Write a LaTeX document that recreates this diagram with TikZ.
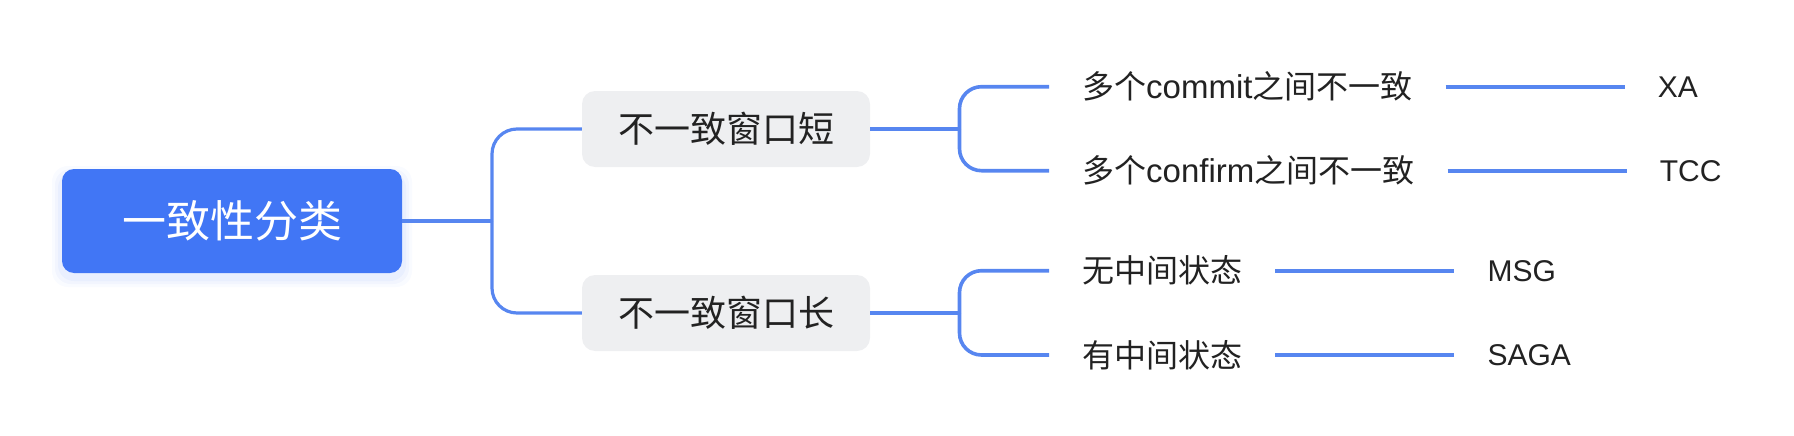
\documentclass[tikz,border=0pt]{standalone}
\usepackage{fontspec}
\setmainfont{Liberation Sans}
\newfontfamily\cjk{Noto Sans CJK SC}
\newcommand{\latw}[1]{{\fontsize{33}{38}\selectfont #1}}
\definecolor{rootblue}{HTML}{4176F5}
\definecolor{lineblue}{HTML}{5786F0}
\definecolor{boxgray}{HTML}{EEEFF1}
\definecolor{ink}{HTML}{222222}
\tikzset{
  rootbox/.style={fill=rootblue, rounded corners=12pt, minimum width=340pt, minimum height=104pt, inner sep=0pt, text=white, font=\cjk\fontsize{44}{50}\selectfont},
  midbox/.style={fill=boxgray, rounded corners=13pt, minimum width=288pt, minimum height=76pt, inner sep=0pt, text=ink, font=\cjk\fontsize{36}{42}\selectfont},
  subtext/.style={anchor=west, inner xsep=33pt, inner ysep=0pt, text=ink, font=\fontsize{32}{38}\selectfont},
  leaftext/.style={inner xsep=33pt, inner ysep=0pt, text=ink, font=\fontsize{30}{36}\selectfont},
  conn/.style={draw=lineblue, line width=3.2pt},
  subconn/.style={draw=lineblue, line width=3.6pt},
}
\begin{document}
\begin{tikzpicture}[x=1pt,y=-1pt]
\useasboundingbox (0,0) rectangle (1794,436);
% soft glow under root
\foreach \g/\o in {10/0.03,7/0.04,4/0.05}{
  \fill[rootblue, opacity=\o, rounded corners=16pt] (62-\g,172-\g+4) rectangle (402+\g,273+\g+4);
}
\node[rootbox] (root) at (232,221) {一致性分类};
\node[midbox] (A) at (726,129) {不一致窗口短};
\node[midbox] (B) at (726,313) {不一致窗口长};
\coordinate (j1) at (492,221);
\coordinate (j2) at (959.5,129);
\coordinate (j3) at (959.5,313);
\node[subtext] (t1) at (1049,86.7) {{\cjk 多个}\latw{commit}{\cjk 之间不一致}};
\node[subtext] (t2) at (1049,170.7) {{\cjk 多个}\latw{confirm}{\cjk 之间不一致}};
\node[subtext] (t3) at (1049,270.7) {{\cjk 无中间状态}};
\node[subtext] (t4) at (1049,355) {{\cjk 有中间状态}};
\node[leaftext, anchor=west] (l1) at ([xshift=179pt]t1.east) {XA};
\node[leaftext, anchor=west] (l2) at ([xshift=179pt]t2.east) {TCC};
\node[leaftext, anchor=west] (l3) at ([xshift=179pt]t3.east) {MSG};
\node[leaftext, anchor=west] (l4) at ([xshift=179pt]t4.east) {SAGA};
% connectors
\draw[conn] (root.east) -- (j1);
\draw[conn, rounded corners=25pt] (j1) |- (A.west);
\draw[conn, rounded corners=25pt] (j1) |- (B.west);
\draw[subconn] (A.east) -- (j2);
\draw[subconn] (B.east) -- (j3);
\draw[subconn, rounded corners=22pt] (j2) |- (t1.west);
\draw[subconn, rounded corners=22pt] (j2) |- (t2.west);
\draw[subconn, rounded corners=22pt] (j3) |- (t3.west);
\draw[subconn, rounded corners=22pt] (j3) |- (t4.west);
\draw[subconn] (t1.east) -- (l1.west);
\draw[subconn] (t2.east) -- (l2.west);
\draw[subconn] (t3.east) -- (l3.west);
\draw[subconn] (t4.east) -- (l4.west);
\end{tikzpicture}
\end{document}
